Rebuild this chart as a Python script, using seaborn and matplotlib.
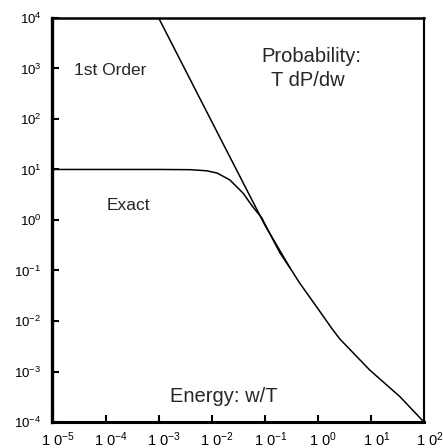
import matplotlib
matplotlib.use("Agg")
import matplotlib.pyplot as plt
import matplotlib.transforms as mtransforms
from matplotlib.ticker import FixedLocator, FixedFormatter, NullLocator
import pandas as pd
import seaborn as sns

# values (energy w/T, probability T dP/dw)
first_order_w = [1e-3, 1e-2, 1e-1, 0.3]
first_order_p = [1e4, 89, 0.8, 0.112]

exact_w = [1e-5, 1e-4, 1e-3, 4e-3, 8.1e-3, 0.0126, 0.022, 0.039, 0.060, 0.088,
           0.115, 0.193, 0.3, 0.457, 1.09, 1.82, 2.6, 9.5, 35, 100]
exact_p = [10, 10, 10, 9.9, 9.4, 8.5, 6.2, 3.4, 1.8, 1.1,
           0.63, 0.224, 0.112, 0.056, 0.0155, 0.0072, 4.4e-3, 1.07e-3, 3.2e-4, 1e-4]

x_exps = [-5, -4, -3, -2, -1, 0, 1, 2]
y_exps = [-4, -3, -2, -1, 0, 1, 2, 3, 4]

sns.set_style("ticks", {'axes.edgecolor': 'black', 'xtick.color': 'black', 'ytick.color': 'black'})
plt.rcParams['font.family'] = ['Liberation Sans', 'DejaVu Sans']
plt.rcParams['mathtext.default'] = 'regular'

df_first = pd.DataFrame({'w': first_order_w, 'p': first_order_p})
df_exact = pd.DataFrame({'w': exact_w, 'p': exact_p})

fig = plt.figure(figsize=(4.43, 4.48), dpi=100)
ax = fig.add_axes([0.1185, 0.058, 0.8385, 0.902])
ax.set_xscale('log')
ax.set_yscale('log')

sns.lineplot(data=df_first, x='w', y='p', color='black', linewidth=1.1,
             estimator=None, sort=False, ax=ax)
sns.lineplot(data=df_exact, x='w', y='p', color='black', linewidth=1.1,
             estimator=None, sort=False, ax=ax)

ax.set_xlim(1e-5, 1e2)
ax.set_ylim(1e-4, 1e4)
ax.set_xlabel('')
ax.set_ylabel('')

ax.xaxis.set_major_locator(FixedLocator([10.0 ** e for e in x_exps]))
ax.yaxis.set_major_locator(FixedLocator([10.0 ** e for e in y_exps]))
ax.xaxis.set_minor_locator(NullLocator())
ax.yaxis.set_minor_locator(NullLocator())
ax.xaxis.set_major_formatter(FixedFormatter([r'$1\;0^{%d}$' % e for e in x_exps]))
ax.yaxis.set_major_formatter(FixedFormatter([r'$10^{%d}$' % e for e in y_exps]))
ax.tick_params(axis='x', direction='in', length=5, width=1.5, labelsize=10.5, pad=6)
ax.tick_params(axis='y', direction='in', length=5, width=1.5, labelsize=9.5, pad=8)

# the "10" sits on the tick, the exponent hangs to the right
shift = mtransforms.ScaledTranslation(0.055, 0, fig.dpi_scale_trans)
for lbl in ax.get_xticklabels():
    lbl.set_transform(lbl.get_transform() + shift)

ax.spines['left'].set_linewidth(2.4)
ax.spines['bottom'].set_linewidth(2.2)
ax.spines['top'].set_linewidth(1.8)
ax.spines['right'].set_linewidth(1.5)

ax.text(0.155, 0.859, '1st Order', transform=ax.transAxes, fontsize=12.5, ha='center', va='baseline')
ax.text(0.203, 0.525, 'Exact', transform=ax.transAxes, fontsize=12.5, ha='center', va='baseline')
ax.text(0.698, 0.891, 'Probability:', transform=ax.transAxes, fontsize=14.5, ha='center', va='baseline')
ax.text(0.686, 0.832, 'T dP/dw', transform=ax.transAxes, fontsize=14.5, ha='center', va='baseline')
ax.text(0.462, 0.0495, 'Energy: w/T', transform=ax.transAxes, fontsize=14.5, ha='center', va='baseline')

fig.savefig('out.png', dpi=100)
